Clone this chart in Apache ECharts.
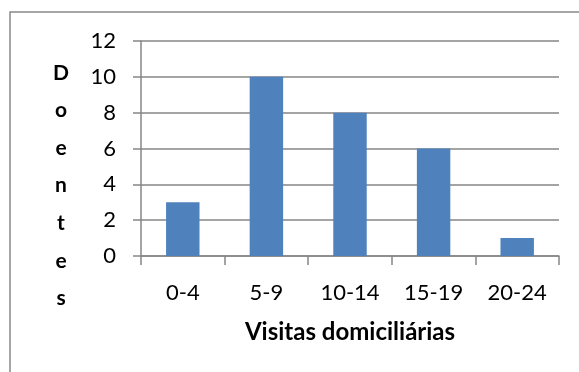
<!DOCTYPE html>
<html>
<head>
<meta charset="utf-8">
<script src="https://cdn.jsdelivr.net/npm/echarts@6/dist/echarts.min.js"></script>
<style>
html,body{margin:0;padding:0;background:#fff;}
#c{width:579px;height:372px;}
</style>
</head>
<body>
<div id="c"></div>
<script>
var categories = ['0-4', '5-9', '10-14', '15-19', '20-24'];
var values = [3, 10, 8, 6, 1];
var yTitle = 'Doentes';
var xTitle = 'Visitas domiciliárias';

var FONT = 'Lato';
var chart = echarts.init(document.getElementById('c'), null, {renderer: 'canvas'});
chart.setOption({
  animation: false,
  backgroundColor: '#fff',
  graphic: [
    {type: 'rect', x: 10, y: 12, shape: {x: 0, y: 0, width: 600, height: 400}, style: {fill: 'none', stroke: '#898989', lineWidth: 1.5}, silent: true},
    {type: 'text', x: 61, y: 54, style: {text: yTitle.split('').join('\n'), font: 'bold 21px ' + FONT, fill: '#000', lineHeight: 37.6, align: 'center', verticalAlign: 'top'}}
  ],
  grid: {left: 141, right: 20, top: 41, bottom: 116, containLabel: false},
  xAxis: {
    type: 'category',
    data: categories,
    name: xTitle,
    nameLocation: 'middle',
    nameGap: 64,
    nameTextStyle: {fontFamily: FONT, fontWeight: 'bold', fontSize: 24, color: '#000'},
    axisLine: {lineStyle: {color: '#868686', width: 1.5}},
    axisTick: {show: true, length: 9, lineStyle: {color: '#868686', width: 1.5}, alignWithLabel: false},
    axisLabel: {fontFamily: FONT, fontSize: 22, color: '#000', margin: 26}
  },
  yAxis: {
    type: 'value',
    min: 0, max: 12, interval: 2,
    axisLine: {show: true, lineStyle: {color: '#868686', width: 1.5}},
    axisTick: {show: true, length: 8, lineStyle: {color: '#868686', width: 1.5}},
    axisLabel: {fontFamily: FONT, fontSize: 22, color: '#000', margin: 25},
    splitLine: {lineStyle: {color: '#868686', width: 1.5}}
  },
  series: [{
    type: 'bar',
    data: values,
    barWidth: '40%',
    itemStyle: {color: '#4F81BD'}
  }]
});
</script>
</body>
</html>
